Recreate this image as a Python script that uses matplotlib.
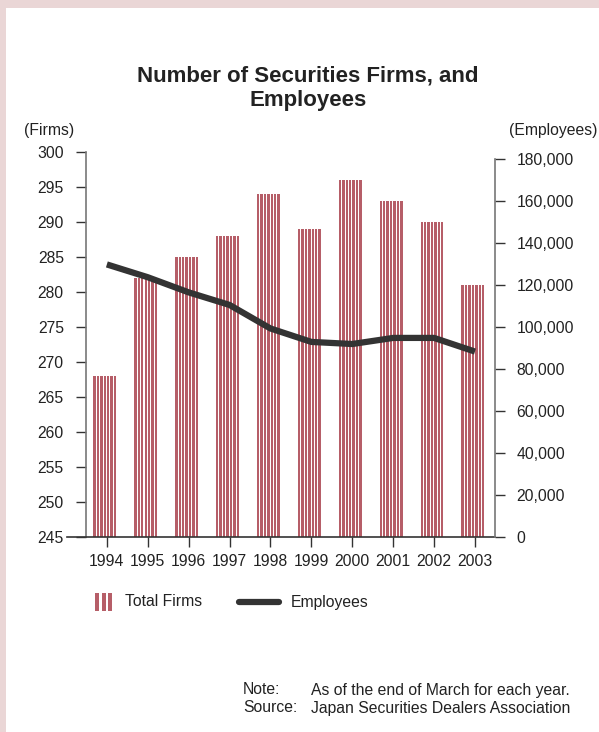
import numpy as np
import matplotlib
matplotlib.use('Agg')
import matplotlib.pyplot as plt
from matplotlib.patches import Rectangle
from matplotlib.ticker import FuncFormatter

plt.rcParams['font.family'] = ['Liberation Sans', 'DejaVu Sans']

years = ['1994', '1995', '1996', '1997', '1998', '1999', '2000', '2001', '2002', '2003']
firms = [268, 282, 285, 288, 294, 289, 296, 293, 290, 281]
employees = [129800, 123700, 116500, 110500, 99300, 92900, 91900, 94800, 94800, 88300]

bar_color = '#b65e68'
line_color = '#333333'
text_color = '#222222'
axis_color = '#777777'
fs = 11.3

fig = plt.figure(figsize=(5.99, 7.32), dpi=100)
fig.patch.set_facecolor('white')

# pink frame along the top and the left edge
fig.patches.append(Rectangle((0, 1 - 8 / 732), 1, 8 / 732, transform=fig.transFigure,
                             facecolor='#ead6d6', edgecolor='none', zorder=0))
fig.patches.append(Rectangle((0, 0), 6 / 599, 1, transform=fig.transFigure,
                             facecolor='#ead6d6', edgecolor='none', zorder=0))

ax = fig.add_axes([86 / 599, 1 - 537 / 732, (495 - 86) / 599, (537 - 152) / 732])
ax2 = ax.twinx()

x = np.arange(len(years))

# each bar is a set of thin vertical stripes
n_stripes = 7
pitch = 24 / 40.9 / n_stripes
stripe_w = pitch * 0.7
for k in range(n_stripes):
    off = (k - (n_stripes - 1) / 2) * pitch - 0.05
    ax.bar(x + off, np.array(firms) - 245, bottom=245, width=stripe_w,
           color=bar_color, edgecolor='none', zorder=2)

ax.set_xlim(-0.51, 9.49)
ax.set_ylim(245, 300)
ax.set_yticks(np.arange(245, 301, 5))
ax.set_xticks(x)
ax.set_xticklabels(years)

ax2.plot(x, employees, color=line_color, lw=4.5, solid_capstyle='butt',
         solid_joinstyle='round', zorder=3)
ax2.set_ylim(0, 183333)
ax2.set_yticks(np.arange(0, 180001, 20000))
ax2.yaxis.set_major_formatter(FuncFormatter(lambda v, p: f'{int(v):,}'))
ax2.spines['right'].set_bounds(0, 180000)

for a in (ax, ax2):
    a.patch.set_visible(False)
    a.spines['top'].set_visible(False)
    for s in a.spines.values():
        s.set_color(axis_color)
        s.set_linewidth(1.2)
    a.tick_params(length=7, width=1, color='#333333', labelsize=fs,
                  labelcolor=text_color)
ax.spines['right'].set_visible(False)
ax2.spines['left'].set_visible(False)
ax2.spines['bottom'].set_visible(False)
ax.set_zorder(ax2.get_zorder() - 1)
ax2.set_zorder(1)
ax.spines['bottom'].set_color('#333333')
ax.spines['bottom'].set_bounds(-0.97, 9.49)
ax.tick_params(axis='y', pad=9)
ax.tick_params(axis='x', pad=5)
ax2.tick_params(axis='y', pad=8.5)

fig.text(308 / 599, 1 - 88 / 732, 'Number of Securities Firms, and\nEmployees',
         ha='center', va='center', fontsize=16, fontweight='bold',
         color=text_color, linespacing=1.22)
fig.text(24 / 599, 1 - 130 / 732, '(Firms)', ha='left', va='center',
         fontsize=fs, color=text_color)
fig.text(597 / 599, 1 - 130 / 732, '(Employees)', ha='right', va='center',
         fontsize=fs, color=text_color)

# legend
leg_y = 1 - 602 / 732
for k in range(3):
    fig.patches.append(Rectangle(((95 + k * 6.5) / 599, leg_y - 9 / 732), 4 / 599, 18 / 732,
                                 transform=fig.transFigure, facecolor=bar_color,
                                 edgecolor='none'))
fig.text(125 / 599, leg_y, 'Total Firms', ha='left', va='center',
         fontsize=fs, color=text_color)
fig.lines.append(plt.Line2D([239 / 599, 279 / 599], [leg_y, leg_y],
                            transform=fig.transFigure, color=line_color, lw=4.5,
                            solid_capstyle='round'))
fig.text(291 / 599, leg_y, 'Employees', ha='left', va='center',
         fontsize=fs, color=text_color)

# notes
fig.text(243 / 599, 1 - 690 / 732, 'Note:', ha='left', va='center',
         fontsize=fs, color=text_color)
fig.text(311 / 599, 1 - 690 / 732, 'As of the end of March for each year.', ha='left',
         va='center', fontsize=fs, color=text_color)
fig.text(243 / 599, 1 - 708 / 732, 'Source:', ha='left', va='center',
         fontsize=fs, color=text_color)
fig.text(311 / 599, 1 - 708 / 732, 'Japan Securities Dealers Association', ha='left',
         va='center', fontsize=fs, color=text_color)

fig.savefig('out.png', dpi=100, facecolor=fig.get_facecolor())
